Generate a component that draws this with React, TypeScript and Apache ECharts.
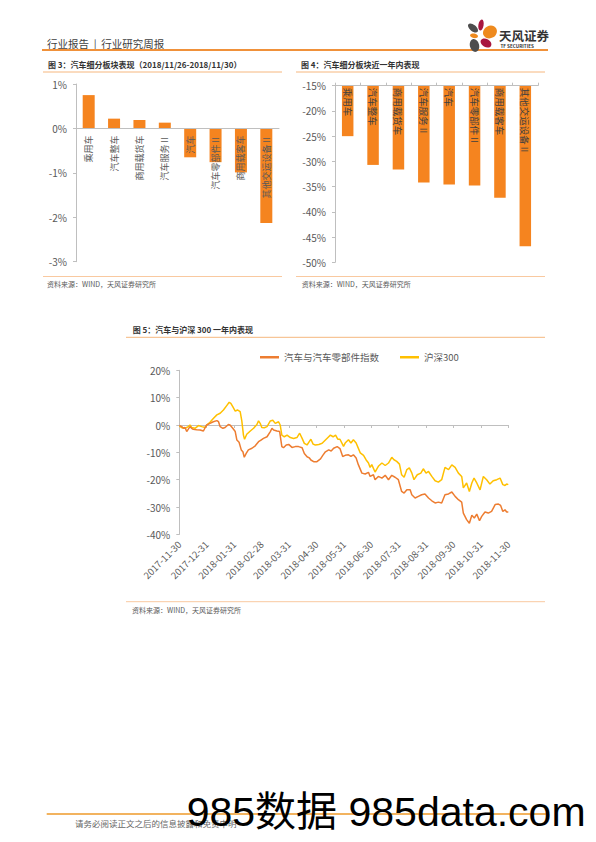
import React, { useEffect, useRef } from 'react';
import * as echarts from 'echarts';

// ---------- data ----------
const sectors = ['乘用车', '汽车整车', '商用载货车', '汽车服务Ⅱ', '汽车', '汽车零部件Ⅱ', '商用载客车', '其他交运设备Ⅱ'];
const weekChange = [0.75, 0.22, 0.19, 0.13, -0.65, -0.76, -0.99, -2.13];
const yearChange = [-25.0, -30.7, -31.6, -34.2, -34.6, -34.8, -37.2, -46.8];
const weekTicks = [-3, 1, 1]; // min, max, interval (%)
const yearTicks = [-50, -15, 5];
const trendTicks = [-40, 20, 10];

const monthLabels = [
  '2017-11-30', '2017-12-31', '2018-01-31', '2018-02-28', '2018-03-31', '2018-04-30', '2018-05-31',
  '2018-06-30', '2018-07-31', '2018-08-31', '2018-09-30', '2018-10-31', '2018-11-30',
];

// months elapsed since 2017-11-30
const autoMonths = [
  0.00, 0.09, 0.15, 0.21, 0.27, 0.33, 0.39, 0.45, 0.51, 0.63, 0.76, 0.88, 0.94, 1.00, 1.12, 1.24, 1.37, 1.43,
  1.49, 1.59, 1.67, 1.79, 1.85, 1.95, 2.04, 2.10, 2.18, 2.26, 2.32, 2.37, 2.44, 2.52, 2.65, 2.77, 2.89, 2.98,
  3.07, 3.20, 3.32, 3.38, 3.44, 3.56, 3.66, 3.74, 3.80, 3.90, 3.99, 4.11, 4.23, 4.35, 4.48, 4.56, 4.66, 4.74,
  4.80, 4.90, 5.02, 5.15, 5.24, 5.33, 5.45, 5.54, 5.63, 5.76, 5.86, 5.96, 6.05, 6.17, 6.26, 6.35, 6.45, 6.53,
  6.66, 6.78, 6.90, 6.96, 7.08, 7.14, 7.26, 7.39, 7.51, 7.63, 7.75, 7.87, 7.99, 8.11, 8.20, 8.30, 8.42, 8.48,
  8.60, 8.72, 8.84, 8.96, 9.09, 9.21, 9.33, 9.45, 9.57, 9.69, 9.82, 9.94, 10.06, 10.18, 10.30, 10.36, 10.48,
  10.58, 10.67, 10.76, 10.85, 10.95, 11.03, 11.15, 11.27, 11.39, 11.52, 11.64, 11.72, 11.80, 11.88, 11.94, 12.00,
];
const autoIndex = [
  -0.2, -0.6, -1.2, -0.9, -2.4, -1.5, -0.6, -1.2, -1.6, -1.7, -1.8, -2.2, -1.0, 0.0, 0.6, 1.2, 1.6, 1.2,
  -0.6, -1.2, -0.9, 0.2, 0.0, -1.2, -2.4, -5.5, -6.3, -9.1, -9.8, -11.8, -10.4, -9.1, -8.5, -7.6, -6.1, -5.5,
  -4.9, -4.3, -2.4, -1.2, -1.8, -2.2, -2.4, -7.9, -8.3, -7.3, -7.1, -8.2, -7.9, -7.9, -8.3, -10.4, -11.6, -12.0,
  -12.8, -13.4, -13.4, -12.4, -11.0, -9.8, -9.1, -9.5, -8.5, -7.9, -8.6, -11.5, -11.1, -10.9, -11.5, -10.9, -12.1, -14.5,
  -17.6, -17.9, -17.3, -18.8, -18.2, -20.0, -18.8, -19.4, -18.4, -20.0, -18.4, -19.1, -20.0, -24.3, -24.9, -23.7, -23.7, -25.5,
  -26.7, -26.1, -25.5, -25.2, -26.7, -27.7, -28.5, -28.2, -28.5, -25.5, -25.2, -24.5, -26.1, -27.3, -28.2, -32.2, -34.6,
  -35.9, -33.0, -34.0, -32.6, -35.0, -33.4, -31.8, -32.2, -31.6, -29.1, -28.9, -29.4, -31.6, -31.0, -31.8, -31.8,
];

const hs300Months = [
  0.00, 0.09, 0.21, 0.33, 0.39, 0.45, 0.57, 0.70, 0.82, 0.94, 1.00, 1.12, 1.24, 1.37, 1.49, 1.61, 1.73, 1.82,
  1.88, 1.95, 2.04, 2.12, 2.22, 2.28, 2.34, 2.38, 2.46, 2.59, 2.71, 2.83, 2.89, 2.95, 3.01, 3.10, 3.20, 3.32,
  3.41, 3.50, 3.62, 3.68, 3.74, 3.83, 3.93, 4.05, 4.17, 4.29, 4.39, 4.48, 4.56, 4.66, 4.74, 4.80, 4.88, 4.96,
  5.09, 5.21, 5.33, 5.45, 5.51, 5.61, 5.70, 5.78, 5.86, 5.99, 6.05, 6.17, 6.26, 6.35, 6.45, 6.60, 6.72, 6.81,
  6.90, 6.96, 7.02, 7.14, 7.26, 7.39, 7.51, 7.63, 7.75, 7.83, 7.93, 8.03, 8.11, 8.20, 8.30, 8.39, 8.48, 8.56,
  8.68, 8.81, 8.90, 9.00, 9.09, 9.21, 9.33, 9.45, 9.57, 9.69, 9.82, 9.94, 10.06, 10.18, 10.30, 10.36, 10.48,
  10.58, 10.67, 10.75, 10.85, 10.97, 11.09, 11.21, 11.33, 11.45, 11.58, 11.70, 11.80, 11.88, 11.94, 12.00,
];
const hs300Index = [
  -0.4, -1.0, -1.2, -0.6, 0.0, -0.9, -1.2, -0.2, -0.6, -0.9, 0.0, 1.0, 2.4, 3.7, 4.3, 5.5, 7.1, 8.3,
  7.9, 6.7, 5.1, 5.5, 4.9, 1.5, -3.7, -5.2, -3.4, -2.2, -1.2, 0.2, 1.5, 0.6, -0.9, -1.0, -0.6, 1.5,
  1.7, 0.6, 1.2, 0.0, -3.7, -4.3, -3.7, -4.6, -4.9, -4.6, -3.0, -4.9, -6.7, -7.3, -6.1, -5.2, -7.0, -7.3,
  -7.1, -6.7, -5.5, -4.3, -3.7, -4.3, -3.7, -5.2, -5.2, -7.8, -6.6, -5.4, -6.6, -5.4, -6.6, -10.2, -11.1, -12.7,
  -13.9, -15.5, -14.5, -17.2, -15.1, -13.9, -14.8, -13.9, -11.8, -12.7, -13.3, -14.3, -18.2, -19.1, -16.3, -15.7, -17.5, -20.0,
  -18.2, -17.6, -16.0, -17.6, -17.0, -18.8, -20.4, -20.9, -20.0, -15.5, -16.3, -14.6, -15.5, -17.6, -18.8, -23.0, -21.2,
  -24.3, -21.2, -19.4, -21.2, -23.7, -18.8, -20.0, -21.6, -20.4, -20.0, -19.4, -21.8, -22.1, -21.6, -21.8,
];

// ---------- styles / layout ----------
const FONT = '"Noto Sans CJK SC", "Noto Sans", sans-serif';
const AXIS_GRAY = '#BFBFBF';
const LABEL_GRAY = '#595959';
const BAR_ORANGE = '#F5841F';
const LINE_ORANGE = '#ED7D31';
const LINE_GOLD = '#FFC000';
const RULE_LIGHT = '#F9C9A0';
const RULE_TITLE = '#F6B77E';

const G3 = { left: 76, top: 84, width: 203, height: 177.7 };
const G4 = { left: 335, top: 85.7, width: 203, height: 176.6 };
const G5 = { left: 179.3, top: 370.3, width: 329, height: 164.1 };

// distance (px) from the grid bottom up to the value-axis zero line
const zeroLift = (g: { height: number }, ticks: number[]) => (g.height * (0 - ticks[0])) / (ticks[1] - ticks[0]);

const hLine = (x1: number, x2: number, y: number, stroke: string, lineWidth: number) => ({
  type: 'line',
  shape: { x1, y1: y, x2, y2: y },
  style: { stroke, lineWidth },
  silent: true,
});

const txt = (text: string, x: number, y: number, size: number, fill: string, weight = 'normal', family = FONT) => ({
  type: 'text',
  x,
  y,
  style: { text, fill, fontSize: size, fontFamily: family, fontWeight: weight, align: 'left', verticalAlign: 'middle' },
  silent: true,
});

const petal = (cx: number, cy: number, rx: number, ry: number, deg: number, fill: string) => ({
  type: 'ellipse',
  x: cx,
  y: cy,
  rotation: (deg * Math.PI) / 180,
  shape: { cx: 0, cy: 0, rx, ry },
  style: { fill },
  silent: true,
});

const valueAxis = (gridIndex: number, ticks: number[]) => ({
  type: 'value',
  gridIndex,
  min: ticks[0],
  max: ticks[1],
  interval: ticks[2],
  splitLine: { show: false },
  axisLine: { show: true, onZero: false, lineStyle: { color: AXIS_GRAY } },
  axisTick: { show: true, length: 3, lineStyle: { color: AXIS_GRAY } },
  axisLabel: { fontFamily: FONT, color: LABEL_GRAY, formatter: '{value}%', fontSize: 10, margin: 9 },
});

export default function App() {
  const ref = useRef<HTMLDivElement>(null);

  useEffect(() => {
    if (!ref.current) return;
    const chart = echarts.init(ref.current, null, { renderer: 'svg' });

    const axisLabelBase = { fontFamily: FONT, color: LABEL_GRAY };

    const option: any = {
      animation: false,
      backgroundColor: '#ffffff',
      textStyle: { fontFamily: FONT },
      legend: {
        data: ['汽车与汽车零部件指数', '沪深300'],
        left: 255,
        top: 347.5,
        icon: 'rect',
        itemWidth: 19,
        itemHeight: 2.5,
        itemGap: 21,
        textStyle: { fontSize: 9.5, color: LABEL_GRAY, fontFamily: FONT },
      },
      grid: [G3, G4, G5],
      xAxis: [
        {
          type: 'category',
          gridIndex: 0,
          position: 'bottom',
          offset: -zeroLift(G3, weekTicks),
          data: sectors,
          z: 10,
          axisLine: { onZero: false, lineStyle: { color: AXIS_GRAY } },
          axisTick: { show: false },
          axisLabel: { ...axisLabelBase, rotate: 90, interval: 0, margin: 7, fontSize: 9 },
        },
        {
          type: 'category',
          gridIndex: 1,
          position: 'top',
          data: sectors,
          z: 10,
          axisLine: { onZero: false, lineStyle: { color: AXIS_GRAY } },
          axisTick: { show: true, length: 3, lineStyle: { color: AXIS_GRAY } },
          axisLabel: { ...axisLabelBase, color: '#404040', inside: true, rotate: 90, interval: 0, margin: 2, fontSize: 9.5 },
        },
        {
          type: 'category',
          gridIndex: 2,
          position: 'bottom',
          data: monthLabels,
          boundaryGap: false,
          axisLine: { show: false, onZero: false },
          axisTick: { show: false },
          axisLabel: { ...axisLabelBase, rotate: 45, interval: 0, margin: 8, fontSize: 9.5 },
        },
        {
          type: 'category',
          gridIndex: 2,
          position: 'bottom',
          offset: -zeroLift(G5, trendTicks),
          data: monthLabels,
          boundaryGap: false,
          axisLine: { show: true, onZero: false, lineStyle: { color: AXIS_GRAY } },
          axisTick: { show: true, length: 3, interval: 0, lineStyle: { color: AXIS_GRAY } },
          axisLabel: { show: false },
        },
        {
          type: 'value',
          gridIndex: 2,
          position: 'bottom',
          min: 0,
          max: 12,
          show: false,
          axisLine: { onZero: false },
        },
      ],
      yAxis: [valueAxis(0, weekTicks), valueAxis(1, yearTicks), valueAxis(2, trendTicks)],
      series: [
        {
          type: 'bar',
          xAxisIndex: 0,
          yAxisIndex: 0,
          data: weekChange,
          barWidth: 12,
          itemStyle: { color: BAR_ORANGE },
        },
        {
          type: 'bar',
          xAxisIndex: 1,
          yAxisIndex: 1,
          data: yearChange,
          barWidth: 11.5,
          clip: true,
          itemStyle: { color: BAR_ORANGE },
        },
        {
          name: '汽车与汽车零部件指数',
          type: 'line',
          xAxisIndex: 4,
          yAxisIndex: 2,
          color: LINE_ORANGE,
          showSymbol: false,
          symbol: 'none',
          lineStyle: { width: 1.5, color: LINE_ORANGE },
          data: autoMonths.map((m, i) => [m, autoIndex[i]]),
          z: 3,
        },
        {
          name: '沪深300',
          type: 'line',
          xAxisIndex: 4,
          yAxisIndex: 2,
          color: LINE_GOLD,
          showSymbol: false,
          symbol: 'none',
          lineStyle: { width: 1.5, color: LINE_GOLD },
          data: hs300Months.map((m, i) => [m, hs300Index[i]]),
          z: 2,
        },
      ],
      graphic: [
        // header
        txt('行业报告  |  行业研究周报', 47, 43.3, 10.5, '#404040'),
        hLine(42, 548, 50, '#F0913A', 2),
        // logo
        petal(473, 28, 6, 3.2, -40, '#4D4D4D'),
        petal(481, 25, 2.6, 5.6, -10, '#A8173F'),
        petal(490, 32, 7.2, 6.2, 30, '#EE8A1E'),
        petal(474, 35.8, 4, 2.3, -10, '#EE8A1E'),
        petal(474.5, 45.5, 4.6, 6.5, 15, '#4D4D4D'),
        petal(486, 43, 5.8, 4, -30, '#A8173F'),
        txt('天风证券', 499, 35, 12.5, '#333333', 'bold'),
        txt('TF SECURITIES', 500.5, 46.3, 4.6, '#333333', 'bold'),
        // figure titles
        txt('图 3：汽车细分板块表现（2018/11/26-2018/11/30）', 48, 64.5, 8, '#333333', 'bold'),
        hLine(43, 282, 72, RULE_TITLE, 1),
        txt('图 4：汽车细分板块近一年内表现', 301, 64.5, 8, '#333333', 'bold'),
        hLine(296, 545, 72, RULE_TITLE, 1),
        // sources for fig 3 & 4
        hLine(43, 282, 276.5, RULE_LIGHT, 1),
        txt('资料来源：WIND，天风证券研究所', 47, 284.3, 7, LABEL_GRAY),
        hLine(296, 545, 276.5, RULE_LIGHT, 1),
        txt('资料来源：WIND，天风证券研究所', 301.7, 284.3, 7, LABEL_GRAY),
        // figure 5
        txt('图 5：汽车与沪深 300 一年内表现', 132.7, 329, 8, '#333333', 'bold'),
        hLine(126, 545, 337.3, RULE_TITLE, 1),
        hLine(126, 545, 601.7, RULE_LIGHT, 1),
        txt('资料来源：WIND，天风证券研究所', 132, 610, 7, LABEL_GRAY),
        // footer
        hLine(46.7, 548, 814, '#EE9A2A', 1.5),
        txt('请务必阅读正文之后的信息披露和免责申明', 75, 823.3, 8.5, '#666666'),
        {
          type: 'text',
          x: 186.7,
          y: 812,
          z: 100,
          style: {
            text: '985数据 985data.com',
            fill: '#000000',
            fontSize: 41,
            fontFamily: '"Liberation Sans", "Noto Sans CJK SC", sans-serif',
            align: 'left',
            verticalAlign: 'middle',
          },
          silent: true,
        },
      ],
    };

    chart.setOption(option);
    return () => chart.dispose();
  }, []);

  return (
    <div
      ref={ref}
      style={{ position: 'absolute', left: 0, top: 0, width: 596, height: 842, background: '#ffffff' }}
    />
  );
}
